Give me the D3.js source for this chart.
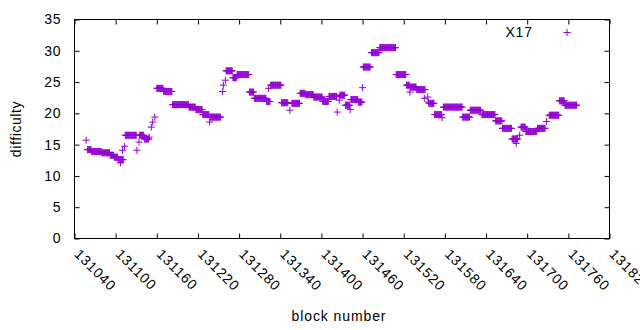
<!DOCTYPE html>
<html>
<head>
<meta charset="utf-8">
<script src="https://cdn.jsdelivr.net/npm/d3@7"></script>
<style>
  body { margin: 0; background: #fff; }
  text { font-family: "Liberation Sans", Arial, sans-serif; fill: #000; }
</style>
</head>
<body>
<div id="chart"></div>
<script>
// runs of consecutive blocks sharing one difficulty value (single points: start == end)
const runStart = [131057, 131059, 131065, 131080, 131092, 131098, 131104, 131107, 131110, 131113,
                  131114, 131131, 131134, 131135, 131142, 131149, 131152, 131154, 131157,
                  131160, 131170, 131183, 131207, 131217, 131227, 131237, 131238, 131256, 131257,
                  131260, 131261, 131271, 131277, 131295, 131302, 131320, 131323, 131326, 131342,
                  131354, 131357, 131369, 131377, 131389, 131402, 131411, 131423, 131426, 131427,
                  131435, 131442, 131443, 131454, 131460, 131461, 131473, 131485, 131509, 131524,
                  131529, 131530, 131539, 131550, 131555, 131556, 131557, 131565, 131576, 131578,
                  131606, 131617, 131634, 131654, 131664, 131678, 131684, 131689, 131691, 131698,
                  131715, 131728, 131732, 131747, 131755];
const runEnd   = [131057, 131064, 131079, 131091, 131097, 131103, 131111, 131107, 131110, 131113,
                  131130, 131131, 131134, 131141, 131148, 131149, 131152, 131154, 131157,
                  131169, 131182, 131206, 131216, 131226, 131236, 131237, 131253, 131256, 131257,
                  131260, 131270, 131276, 131294, 131301, 131319, 131325, 131323, 131341, 131351,
                  131354, 131368, 131376, 131388, 131401, 131410, 131422, 131423, 131426, 131434,
                  131441, 131442, 131453, 131459, 131460, 131471, 131484, 131508, 131523, 131528,
                  131529, 131538, 131551, 131550, 131555, 131556, 131564, 131575, 131576, 131605,
                  131616, 131632, 131653, 131663, 131677, 131686, 131684, 131689, 131697, 131714,
                  131726, 131728, 131746, 131754, 131772];
const runDiff  = [15.7, 14.2, 13.9, 13.7, 13.3, 13.0, 12.6, 12.1, 14.1, 14.75,
                  16.5, 14.1, 15.4, 16.5, 15.9, 16.2, 17.8, 18.6, 19.4,
                  24.0, 23.5, 21.4, 21.0, 20.6, 19.8, 18.6, 19.4, 23.5, 24.5,
                  25.3, 26.8, 25.7, 26.2, 23.4, 22.4, 21.9, 24.0, 24.5, 21.7,
                  20.5, 21.6, 23.2, 23.0, 22.6, 21.9, 22.7, 20.2, 22.1, 22.9,
                  21.3, 20.6, 22.2, 21.8, 24.1, 27.4, 29.7, 30.5, 26.2, 24.5,
                  23.4, 24.2, 23.8, 22.4, 22.6, 21.8, 21.6, 19.8, 19.3, 21.0,
                  19.4, 20.5, 19.8, 18.8, 17.6, 15.9, 15.2, 16.5, 17.8, 17.1,
                  17.6, 18.7, 19.7, 22.0, 21.3];

const xTicks = [131040, 131100, 131160, 131220, 131280, 131340, 131400, 131460,
                131520, 131580, 131640, 131700, 131760, 131820];
const yTicks = [0, 5, 10, 15, 20, 25, 30, 35];
const seriesName = "X17";

const width = 640, height = 330;
const margin = {top: 19.5, right: 30.5, bottom: 91.5, left: 74.5};
const purple = "#9400d3";

let svg = d3.select("#chart")
    .append("svg")
    .attr("width", width)
    .attr("height", height);

let x = d3.scaleLinear()
    .domain([131040, 131820])
    .range([margin.left, width - margin.right]);

let y = d3.scaleLinear()
    .domain([0, 35])
    .range([height - margin.bottom, margin.top]);

// expand the runs into one point per block
let points = [];
for (let i = 0; i < runStart.length; i++) {
    for (let b of d3.range(runStart[i], runEnd[i] + 1)) {
        points.push([b, runDiff[i]]);
    }
}

// axes with inward ticks on all four sides
let tick = 5;
let bottomAxis = svg.append("g")
    .attr("transform", `translate(0,${y(0)})`)
    .call(d3.axisBottom(x).tickValues(xTicks).tickSize(-tick).tickFormat(d3.format("d")));
bottomAxis.selectAll("text")
    .attr("text-anchor", "start")
    .attr("transform", "translate(2,13) rotate(45)")
    .attr("x", 0)
    .attr("y", 0)
    .attr("dy", "0.35em")
    .attr("dx", 0);

svg.append("g")
    .attr("transform", `translate(0,${y(35)})`)
    .call(d3.axisTop(x).tickValues(xTicks).tickSize(-tick).tickFormat(""));

svg.append("g")
    .attr("transform", `translate(${x(131040)},0)`)
    .call(d3.axisLeft(y).tickValues(yTicks).tickSize(-tick).tickPadding(13));

svg.append("g")
    .attr("transform", `translate(${x(131820)},0)`)
    .call(d3.axisRight(y).tickValues(yTicks).tickSize(-tick).tickFormat(""));

svg.selectAll(".domain").remove();
svg.selectAll(".tick line").attr("stroke", "#000");
svg.selectAll(".tick text")
    .style("font-family", "'Liberation Sans', Arial, sans-serif")
    .style("font-size", "14px")
    .style("letter-spacing", "0.9px")
    .attr("fill", "#000");

// plot border
svg.append("rect")
    .attr("x", x(131040))
    .attr("y", y(35))
    .attr("width", x(131820) - x(131040))
    .attr("height", y(0) - y(35))
    .attr("fill", "none")
    .attr("stroke", "#000")
    .attr("stroke-width", 1);

// "+" markers
let half = 3.5;
let plusPath = d => {
    let px = x(d[0]), py = y(d[1]);
    return `M${px - half},${py}h${2 * half}M${px},${py - half}v${2 * half}`;
};
svg.append("path")
    .attr("d", points.map(plusPath).join(""))
    .attr("fill", "none")
    .attr("stroke", purple)
    .attr("stroke-width", 1);

// legend
svg.append("text")
    .attr("x", 533)
    .attr("y", 37)
    .attr("text-anchor", "end")
    .style("font-size", "14px")
    .style("letter-spacing", "0.9px")
    .text(seriesName);
svg.append("path")
    .attr("d", `M${567 - half},32.5h${2 * half}M567,${32.5 - half}v${2 * half}`)
    .attr("stroke", purple)
    .attr("fill", "none");

// axis titles
svg.append("text")
    .attr("x", 339)
    .attr("y", 321)
    .attr("text-anchor", "middle")
    .style("font-size", "14px")
    .style("letter-spacing", "0.9px")
    .text("block number");

svg.append("text")
    .attr("transform", "translate(21,129) rotate(-90)")
    .attr("text-anchor", "middle")
    .style("font-size", "14px")
    .style("letter-spacing", "0.6px")
    .text("difficulty");
</script>
</body>
</html>
